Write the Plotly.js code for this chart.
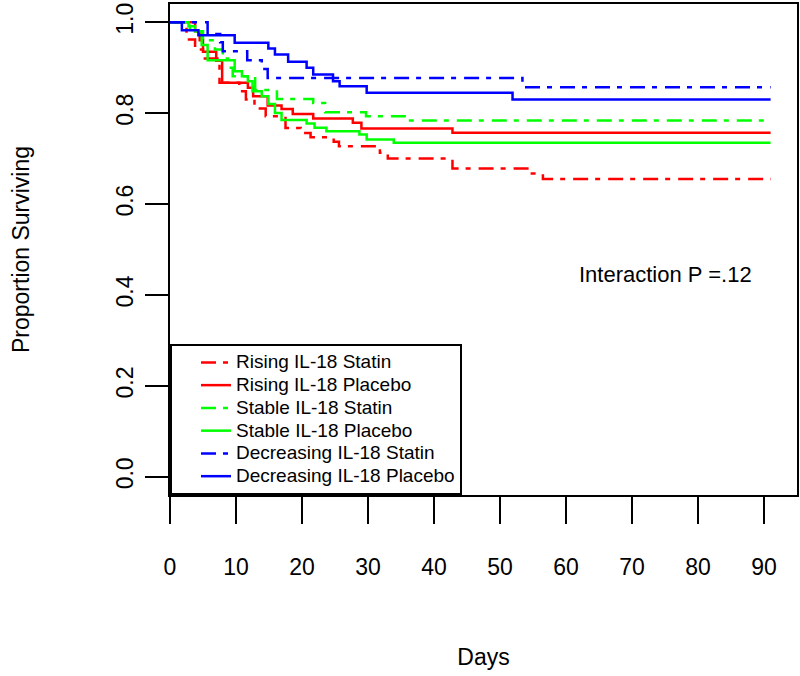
<!DOCTYPE html>
<html>
<head>
<meta charset="utf-8">
<script src="https://cdn.plot.ly/plotly-3.0.1.min.js"></script>
<style>html,body{margin:0;padding:0;background:#fff;}#chart{width:800px;height:676px;}</style>
</head>
<body>
<div id="chart"></div>
<script>
// Kaplan-Meier step data (day, proportion surviving)
const risingStatinDays = [0, 2.5, 3.8, 5.0, 7.5, 10.5, 11.5, 12.8, 14.5, 17.5, 19.8, 21.3, 24.8, 25.6, 31.8, 33.0, 42.8, 54.5, 56.5, 91];
const risingStatinSurv = [1, 0.962, 0.94, 0.92, 0.867, 0.848, 0.83, 0.81, 0.793, 0.767, 0.756, 0.747, 0.737, 0.727, 0.713, 0.700, 0.678, 0.667, 0.655, 0.655];

const risingPlaceboDays = [0, 3.8, 4.5, 5.0, 7.0, 7.9, 11.8, 12.6, 14.8, 16.9, 18.6, 21.7, 27.7, 29.0, 42.8, 91];
const risingPlaceboSurv = [1, 0.98, 0.96, 0.935, 0.915, 0.867, 0.856, 0.837, 0.817, 0.809, 0.798, 0.788, 0.779, 0.766, 0.757, 0.757];

const stableStatinDays = [0, 3.0, 5.0, 6.8, 8.0, 8.8, 9.5, 12.9, 16.2, 21.7, 23.5, 29.7, 35.8, 91];
const stableStatinSurv = [1, 0.98, 0.96, 0.94, 0.92, 0.90, 0.881, 0.851, 0.831, 0.822, 0.802, 0.793, 0.784, 0.784];

const stablePlaceboDays = [0, 2.8, 3.8, 4.8, 5.7, 9.8, 10.9, 11.8, 12.5, 13.9, 14.9, 15.9, 16.9, 20.7, 21.9, 23.7, 28.7, 29.8, 33.9, 91];
const stablePlaceboSurv = [1, 0.991, 0.98, 0.95, 0.916, 0.892, 0.881, 0.87, 0.848, 0.837, 0.82, 0.80, 0.785, 0.777, 0.768, 0.76, 0.753, 0.742, 0.735, 0.735];

const decreasingStatinDays = [0, 5.7, 7.6, 8.0, 11.7, 13.9, 14.8, 53.4, 91];
const decreasingStatinSurv = [1, 0.974, 0.956, 0.936, 0.916, 0.897, 0.877, 0.857, 0.857];

const decreasingPlaceboDays = [0, 1.8, 4.3, 9.8, 14.9, 15.9, 17.9, 20.7, 21.7, 24.7, 25.7, 29.8, 51.9, 91];
const decreasingPlaceboSurv = [1, 0.982, 0.971, 0.955, 0.942, 0.929, 0.913, 0.90, 0.885, 0.870, 0.859, 0.845, 0.83, 0.83];

const seriesNames = ["Rising IL-18 Statin", "Rising IL-18 Placebo", "Stable IL-18 Statin", "Stable IL-18 Placebo", "Decreasing IL-18 Statin", "Decreasing IL-18 Placebo"];
const xTickVals = [0, 10, 20, 30, 40, 50, 60, 70, 80, 90];
const yTickVals = [0, 0.2, 0.4, 0.6, 0.8, 1.0];
const annotationText = "Interaction P =.12";

const FONT = "Liberation Sans, Arial, Helvetica, sans-serif";
const DASH = "15px,7px,5px,8px";
const RED = "#FF0000", GREEN = "#00FF00", BLUE = "#0000FF";

const seriesX = [risingStatinDays, risingPlaceboDays, stableStatinDays, stablePlaceboDays, decreasingStatinDays, decreasingPlaceboDays];
const seriesY = [risingStatinSurv, risingPlaceboSurv, stableStatinSurv, stablePlaceboSurv, decreasingStatinSurv, decreasingPlaceboSurv];
const colors = [RED, RED, GREEN, GREEN, BLUE, BLUE];
const dashes = [DASH, "solid", DASH, "solid", DASH, "solid"];

const traces = seriesNames.map((name, i) => ({
  x: seriesX[i], y: seriesY[i],
  name: '<span style="font-size:19px">' + name + '</span>',
  type: "scatter", mode: "lines",
  line: {shape: "hv", color: colors[i], width: 2.5, dash: dashes[i]},
  hoverinfo: "skip"
}));

const layout = {
  width: 800, height: 676,
  margin: {l: 170, r: 3, t: 4, b: 181},
  paper_bgcolor: "#fff", plot_bgcolor: "#fff",
  font: {family: FONT, color: "#000", size: 23},
  showlegend: true,
  legend: {
    x: 0, y: 0, xanchor: "left", yanchor: "bottom", xref: "paper", yref: "paper",
    bgcolor: "#fff", bordercolor: "#000", borderwidth: 2,
    font: {family: FONT, size: 15.2, color: "#000"},
    indentation: 24, traceorder: "normal"
  },
  xaxis: {
    range: [0, 95], tickvals: xTickVals, ticktext: xTickVals.map(String),
    ticks: "outside", ticklen: 27, tickwidth: 2, tickcolor: "#000",
    showline: true, linecolor: "#000", linewidth: 2, mirror: true,
    showgrid: false, zeroline: false,
    tickfont: {family: FONT, size: 23, color: "#000"},
    ticklabelstandoff: 23,
    title: {text: "Days", font: {family: FONT, size: 23, color: "#000"}, standoff: 70}
  },
  yaxis: {
    range: [-0.04, 1.04], tickvals: yTickVals, ticktext: yTickVals.map(v => v.toFixed(1)),
    ticks: "outside", ticklen: 23, tickwidth: 2, tickcolor: "#000", tickangle: -90,
    showline: true, linecolor: "#000", linewidth: 2, mirror: true,
    showgrid: false, zeroline: false,
    tickfont: {family: FONT, size: 23, color: "#000"},
    ticklabelstandoff: 3,
    title: {text: "Proportion Surviving", font: {family: FONT, size: 23, color: "#000"}, standoff: 76}
  },
  annotations: [{
    x: 75, y: 0.446, xref: "x", yref: "y", text: annotationText, showarrow: false,
    font: {family: FONT, size: 22, color: "#000"}, xanchor: "center", yanchor: "middle"
  }]
};

Plotly.newPlot("chart", traces, layout, {staticPlot: true, displayModeBar: false});
</script>
</body>
</html>
